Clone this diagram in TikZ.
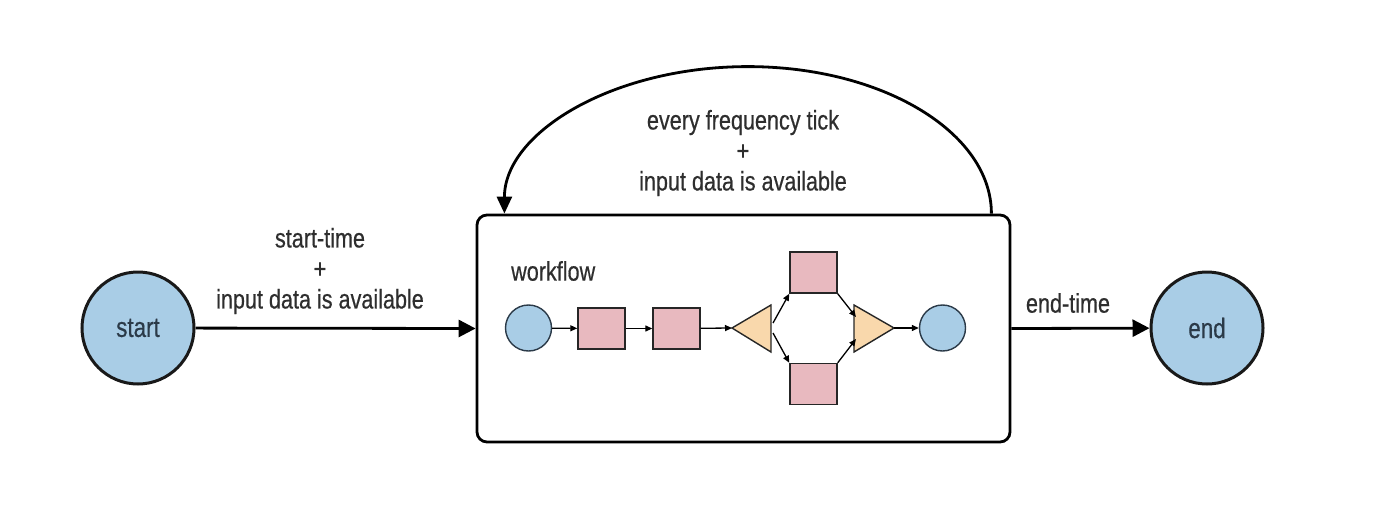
\documentclass[tikz,border=0pt]{standalone}
\usepackage{fontspec}
\setmainfont{Liberation Sans}[FakeStretch=0.8,FakeBold=0.5]
\usetikzlibrary{arrows.meta,calc}
\definecolor{cblue}{HTML}{A9CDE6}
\definecolor{cpink}{HTML}{E8B9BF}
\definecolor{corange}{HTML}{F9D8AC}
\definecolor{ctext}{HTML}{2E2E2E}
\definecolor{cdark}{HTML}{2B3A48}
\begin{document}
\begin{tikzpicture}[x=1pt,y=-1pt,
  lbl/.style={text=ctext,font=\fontsize{27}{30.5}\selectfont,align=center,inner sep=0pt},
  bigcirc/.style={circle,draw=black!90,line width=3pt,fill=cblue,minimum size=112pt,inner sep=0pt,text=cdark,font=\fontsize{28}{30}\selectfont},
  wfbox/.style={draw=black,line width=2.8pt,rounded corners=10pt,minimum width=533pt,minimum height=227pt,inner sep=0pt},
  sc/.style={circle,draw=cdark,line width=1.4pt,fill=cblue,minimum size=46pt,inner sep=0pt},
  pb/.style={rectangle,draw=black!85,line width=1.4pt,fill=cpink,minimum width=47pt,minimum height=41pt,inner sep=0pt},
  tri/.style={draw=black!85,line width=1.4pt,fill=corange,line join=miter},
  bigarrow/.style={line width=2.8pt,-{Triangle[length=17pt,width=17pt]}},
  smallarrow/.style={line width=1.3pt,-{Triangle[length=7pt,width=6pt]}}]
\useasboundingbox (0,0) rectangle (1400,511);
% outer nodes
\node[bigcirc] (start) at (138,328) {start};
\node[bigcirc] (end) at (1207,328) {end};
\node[wfbox] (wf) at (743.5,328.5) {};
\draw[bigarrow] (start) -- (wf.west);
\draw[bigarrow] (wf.east) -- (end);
% loop arc
\coordinate (loopS) at ($(wf.north east)+(-20,0)$);
\draw[line width=2.8pt,-{Triangle[length=17pt,width=15pt]}] (loopS) arc[start angle=0,end angle=-180,x radius=243.5,y radius=147];
% labels
\node[lbl] (lstart) at (320,271) {start-time\\+\\input data is available};
\node[lbl] (lloop) at (743,153) {every frequency tick\\+\\input data is available};
\node[lbl] (lend) at (1068,303) {end-time};
\node[lbl,anchor=west] (lwf) at (511,271) {workflow};
% inner workflow
\node[sc] (c1) at (528.5,328) {};
\node[pb] (b1) at (601.5,328.5) {};
\node[pb] (b2) at (676.5,328.5) {};
\node[pb] (b3) at (813.5,272.5) {};
\node[pb] (b4) at (813.5,384) {};
\node[sc] (c2) at (942.5,328) {};
\draw[tri] (732,328) -- (771,305) -- (771,352) -- cycle;
\draw[tri] (854,305) -- (894,328) -- (854,352) -- cycle;
\coordinate (t1a) at (732,328);
\coordinate (t1b) at (773,323);
\coordinate (t1c) at (773,333);
\coordinate (t2a) at (894,328);
\coordinate (t2u) at (856,317);
\coordinate (t2d) at (856,339);
\draw[smallarrow] (c1) -- (b1);
\draw[smallarrow] (b1) -- (b2);
\draw[smallarrow] (b2) -- (t1a);
\draw[smallarrow] (t1b) -- (b3.south west);
\draw[smallarrow] (t1c) -- (b4.north west);
\draw[smallarrow] (b3.south east) -- (t2u);
\draw[smallarrow] (b4.north east) -- (t2d);
\draw[smallarrow] (t2a) -- (c2);
\end{tikzpicture}
\end{document}
